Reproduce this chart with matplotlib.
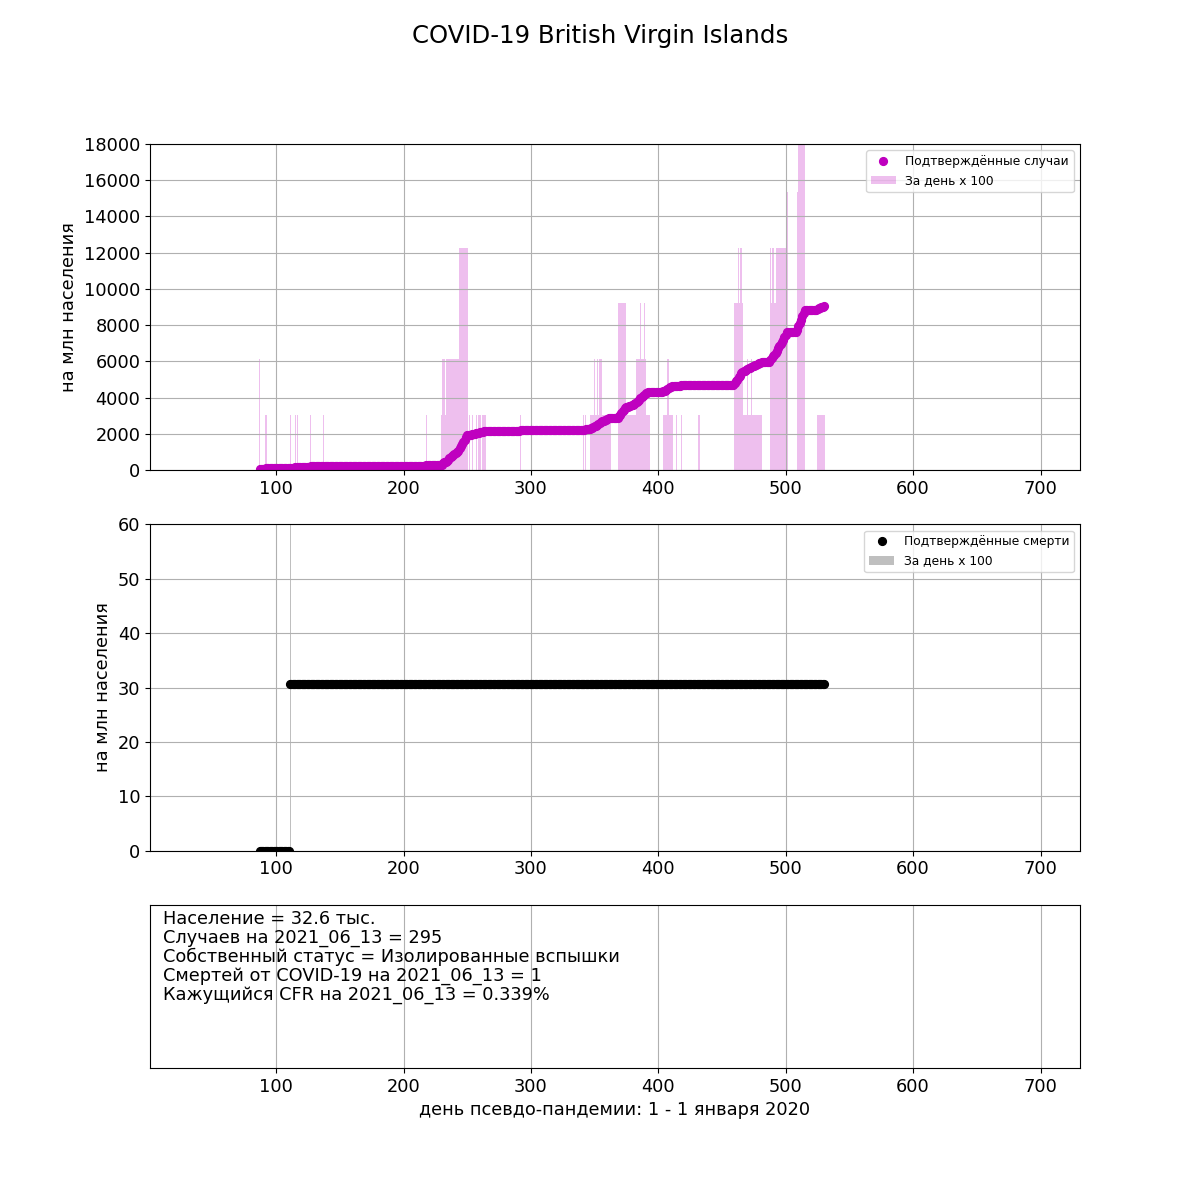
import numpy as np
import matplotlib
matplotlib.use("Agg")
import matplotlib.pyplot as plt

# population and reporting date
population = 32.6e3
report_date = "2021_06_13"
status = "Изолированные вспышки"

# day of pseudo-pandemic (1 = 1 Jan 2020) -> new confirmed cases that day
case_days = [87, 92, 111, 115, 117, 127, 137, 218,
             230, 231, 232, 233, 234, 235, 236, 237, 238, 239, 240, 241, 242, 243,
             244, 245, 246, 247, 248, 249, 250,
             252, 254, 257, 259, 260, 262, 263, 264, 292,
             341, 343, 347, 348, 349, 350, 351, 352, 353, 354, 355, 356, 357, 358,
             359, 360, 361, 362,
             369, 370, 371, 372, 373, 374, 375, 376, 377, 378, 379, 380, 381, 382,
             383, 384, 385, 386, 387, 388, 389, 390, 391, 392, 393,
             404, 405, 406, 407, 408, 409, 410, 411, 414, 418, 432,
             460, 461, 462, 463, 464, 465, 466,
             467, 468, 469, 470, 471, 472, 473, 474, 475, 476, 477, 478, 479, 480, 481,
             488, 489, 490, 491, 492, 493, 494, 495, 496, 497, 498, 499, 500, 501,
             509, 510, 511, 512, 513, 514, 515,
             525, 526, 527, 528, 529, 530]
case_counts = [2, 1, 1, 1, 1, 1, 1, 1,
               1, 2, 2, 1, 2, 2, 2, 2, 2, 2, 2, 2, 2, 2,
               4, 4, 4, 4, 4, 4, 4,
               1, 1, 1, 1, 1, 1, 1, 1, 1,
               1, 1, 1, 1, 1, 2, 1, 2, 1, 2, 2, 1, 1, 1,
               1, 1, 1, 1,
               3, 3, 3, 3, 3, 3, 1, 1, 1, 1, 1, 1, 1, 1,
               2, 2, 2, 3, 2, 2, 3, 2, 1, 1, 1,
               1, 1, 1, 2, 2, 1, 1, 1, 1, 1, 1,
               3, 3, 3, 4, 3, 4, 3,
               1, 1, 1, 2, 1, 1, 2, 1, 1, 1, 1, 1, 1, 1, 1,
               4, 3, 4, 3, 3, 4, 4, 4, 4, 4, 4, 4, 4, 5,
               5, 6, 6, 6, 6, 6, 6,
               1, 1, 1, 1, 1, 1]

death_days = [111]
death_counts = [1]

first_day, last_day = 87, 530

days = np.arange(first_day, last_day + 1)
new_cases = np.zeros(len(days))
new_cases[np.array(case_days) - first_day] = case_counts
new_deaths = np.zeros(len(days))
new_deaths[np.array(death_days) - first_day] = death_counts

scale = 1e6 / population
cum_cases = np.cumsum(new_cases) * scale
cum_deaths = np.cumsum(new_deaths) * scale

FS = 12.8
fig, (ax1, ax2, ax3) = plt.subplots(3, 1, figsize=(12, 12), dpi=100,
                                    gridspec_kw=dict(height_ratios=[2, 2, 1]))
fig.suptitle("COVID-19 British Virgin Islands", fontsize=17.6)

ax1.bar(days, new_cases * scale * 100, width=1, color="m", alpha=0.25, label="За день x 100")
ax1.plot(days, cum_cases, "o", color="m", ms=5.6, label="Подтверждённые случаи")
ax1.set_ylim(0, 18000)
ax1.set_ylabel("на млн населения", fontsize=FS)
ax1.legend(loc="upper right", fontsize=8.8)

ax2.bar(days, new_deaths * scale * 100, width=1, color="k", alpha=0.25, label="За день x 100")
ax2.plot(days, cum_deaths, "o", color="k", ms=5.6, label="Подтверждённые смерти")
ax2.set_ylim(0, 60)
ax2.set_ylabel("на млн населения", fontsize=FS)
ax2.legend(loc="upper right", fontsize=8.8)

ax3.set_yticks([])
ax3.set_xlabel("день псевдо-пандемии: 1 - 1 января 2020", fontsize=FS)
total = int(new_cases.sum())
dead = int(new_deaths.sum())
info = (f"Население = {population / 1e3:.1f} тыс.\n"
        f"Случаев на {report_date} = {total}\n"
        f"Собственный статус = {status}\n"
        f"Смертей от COVID-19 на {report_date} = {dead}\n"
        f"Кажущийся CFR на {report_date} = {dead / total * 100:.3f}%")
ax3.text(0.014, 0.97, info, transform=ax3.transAxes, va="top", ha="left",
         fontsize=FS, linespacing=1.06)

for ax in (ax1, ax2, ax3):
    ax.set_xlim(1, 731)
    ax.grid(True)
    ax.tick_params(labelsize=FS)

fig.savefig("out.png", dpi=100)
